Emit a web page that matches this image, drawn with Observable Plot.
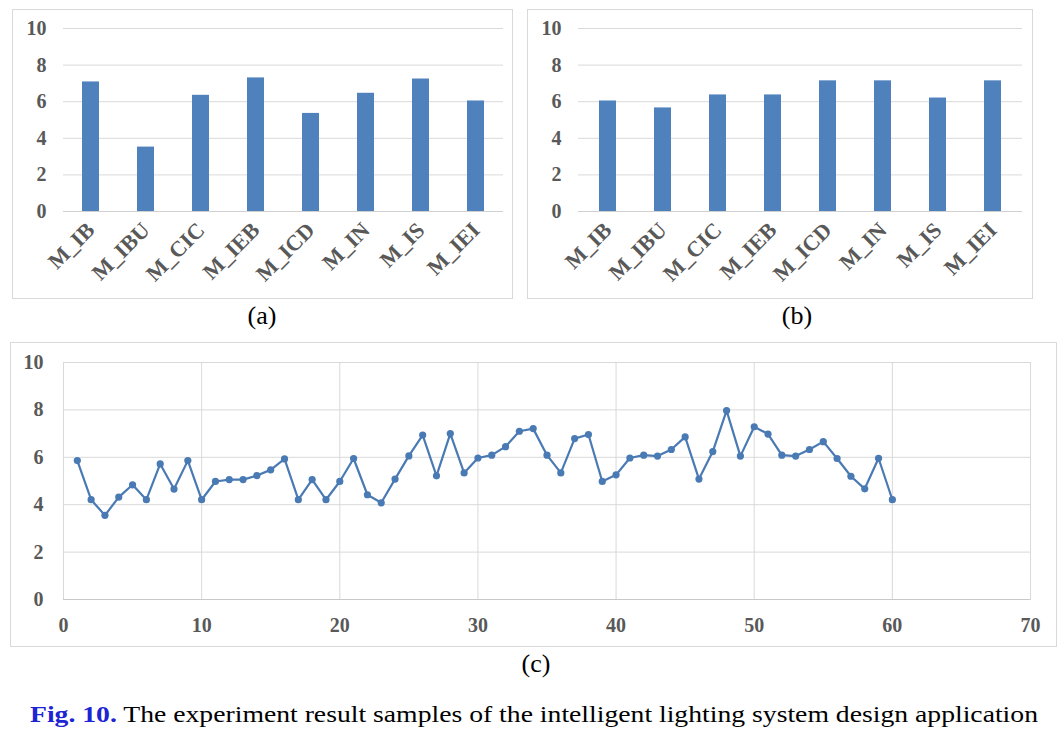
<!DOCTYPE html>
<html>
<head>
<meta charset="utf-8">
<script src="https://cdn.jsdelivr.net/npm/d3@7"></script>
<script src="https://cdn.jsdelivr.net/npm/@observablehq/plot@0.6"></script>
<style>
  html, body { margin: 0; padding: 0; background: #fff; }
  #page { position: relative; width: 1061px; height: 729px; overflow: hidden; background: #fff; }
  .panel { position: absolute; border: 1px solid #d9d9d9; background: #fff; }
  .panel svg { display: block; overflow: visible; }
  #overlay { position: absolute; left: 0; top: 0; pointer-events: none; }
  #page svg, #page svg text, #page svg g { font-family: "Liberation Serif", "Times New Roman", serif !important; }
</style>
</head>
<body>
<div id="page">
  <div class="panel" id="pa" style="left:12px; top:9px;"></div>
  <div class="panel" id="pb" style="left:527px; top:9px;"></div>
  <div class="panel" id="pc" style="left:10px; top:342px;"></div>
  <svg id="overlay" width="1061" height="729">
    <text id="la" x="262" y="324" font-size="26" text-anchor="middle" fill="#000"></text>
    <text id="lb" x="797" y="324" font-size="26" text-anchor="middle" fill="#000"></text>
    <text id="lc" x="536" y="672" font-size="26" text-anchor="middle" fill="#000"></text>
    <text id="cap" x="30" y="722" font-size="24" textLength="1008" lengthAdjust="spacingAndGlyphs" fill="#000"><tspan id="capFig" fill="#1c24d4" font-weight="bold"></tspan><tspan id="capText"></tspan></text>
  </svg>
</div>
<script>
// ---- data ----
const categories = ["M_IB", "M_IBU", "M_CIC", "M_IEB", "M_ICD", "M_IN", "M_IS", "M_IEI"];
const valuesA = [7.08, 3.52, 6.35, 7.30, 5.36, 6.46, 7.24, 6.04];
const valuesB = [6.04, 5.66, 6.37, 6.37, 7.14, 7.14, 6.20, 7.14];
const sampleIndex = [1,2,3,4,5,6,7,8,9,10,11,12,13,14,15,16,17,18,19,20,21,22,23,24,25,26,27,28,29,30,31,32,33,34,35,36,37,38,39,40,41,42,43,44,45,46,47,48,49,50,51,52,53,54,55,56,57,58,59,60];
const sampleValues = [5.86,4.21,3.55,4.32,4.84,4.21,5.72,4.66,5.86,4.21,
                      4.98,5.06,5.06,5.23,5.47,5.93,4.21,5.06,4.21,4.98,
                      5.95,4.42,4.08,5.08,6.06,6.94,5.22,7.00,5.34,5.97,
                      6.09,6.45,7.10,7.21,6.09,5.34,6.79,6.96,4.98,5.26,
                      5.97,6.09,6.05,6.33,6.86,5.08,6.24,7.97,6.05,7.29,
                      6.98,6.09,6.05,6.33,6.66,5.95,5.20,4.67,5.96,4.21];
const yTicks = [0, 2, 4, 6, 8, 10];
const xTicksC = [0, 10, 20, 30, 40, 50, 60, 70];
const panelLabels = ["(a)", "(b)", "(c)"];
const captionFig = "Fig. 10.";
const captionText = " The experiment result samples of the intelligent lighting system design application";

// ---- styles ----
const barColor = "#4f81bd";
const lineColor = "#4a7ab4";
const gridColor = "#d9d9d9";
const tickColor = "#595959";
const tickFont = "Liberation Serif, Times New Roman, serif";

function barChart(values, opts) {
  const data = categories.map((c, i) => ({cat: c, value: values[i]}));
  return Plot.plot({
    width: opts.width, height: 288,
    marginLeft: opts.marginLeft, marginRight: opts.marginRight, marginTop: 18, marginBottom: 87,
    style: {fontFamily: tickFont, background: "#fff", overflow: "visible"},
    x: {domain: categories, paddingInner: 0.7, paddingOuter: 0.35},
    y: {domain: [0, 10]},
    marks: [
      Plot.gridY(yTicks, {stroke: gridColor, strokeOpacity: 1}),
      Plot.barY(data, {x: "cat", y: "value", fill: barColor}),
      Plot.ruleY([0], {stroke: "#d0d0d0", strokeWidth: 1}),
      Plot.axisY(yTicks, {tickSize: 0, tickPadding: 17, fontSize: 20, fontWeight: "bold", fill: tickColor, label: null}),
      Plot.axisX({tickSize: 0, tickPadding: 15, tickRotate: -45, fontSize: 22, fontWeight: "bold", fill: tickColor, label: null})
    ]
  });
}

document.getElementById("pa").appendChild(barChart(valuesA, {width: 499, marginLeft: 50, marginRight: 9}));
document.getElementById("pb").appendChild(barChart(valuesB, {width: 504, marginLeft: 50, marginRight: 10}));

const lineData = sampleIndex.map((x, i) => ({x, y: sampleValues[i]}));
const lineChart = Plot.plot({
  width: 1045, height: 303,
  marginLeft: 52, marginRight: 26, marginTop: 19, marginBottom: 47,
  style: {fontFamily: tickFont, background: "#fff", overflow: "visible"},
  x: {domain: [0, 70]},
  y: {domain: [0, 10]},
  marks: [
    Plot.gridY(yTicks, {stroke: gridColor, strokeOpacity: 1}),
    Plot.gridX(xTicksC, {stroke: gridColor, strokeOpacity: 1}),
    Plot.frame({stroke: gridColor}),
    Plot.ruleY([0], {stroke: "#c8c8c8"}),
    Plot.line(lineData, {x: "x", y: "y", stroke: lineColor, strokeWidth: 2.2}),
    Plot.dot(lineData, {x: "x", y: "y", r: 3.6, fill: lineColor, stroke: "none"}),
    Plot.axisY(yTicks, {tickSize: 0, tickPadding: 20, fontSize: 20, fontWeight: "bold", fill: tickColor, label: null}),
    Plot.axisX(xTicksC, {tickSize: 0, tickPadding: 18, fontSize: 20, fontWeight: "bold", fill: tickColor, label: null})
  ]
});
document.getElementById("pc").appendChild(lineChart);

document.getElementById("la").textContent = panelLabels[0];
document.getElementById("lb").textContent = panelLabels[1];
document.getElementById("lc").textContent = panelLabels[2];
document.getElementById("capFig").textContent = captionFig;
document.getElementById("capText").textContent = captionText;
</script>
</body>
</html>
